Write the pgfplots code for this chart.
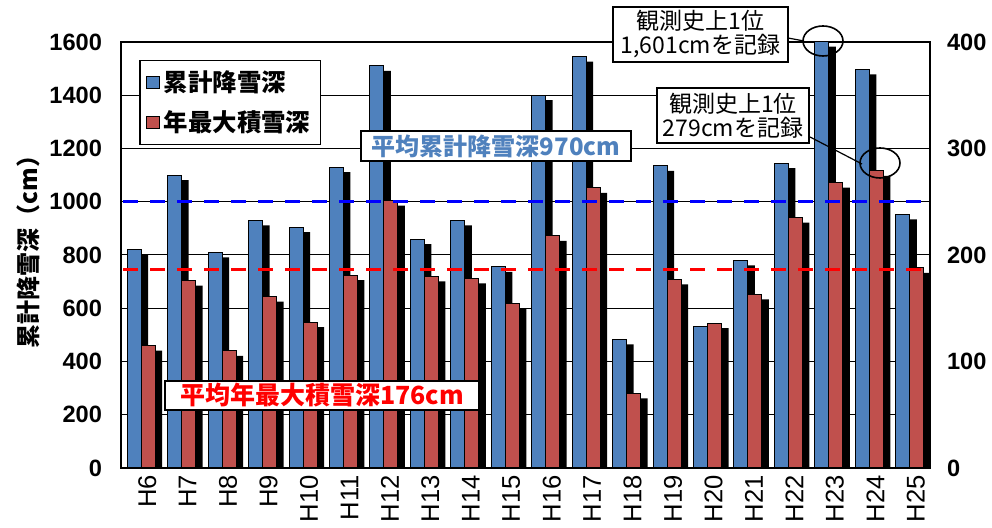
\documentclass[border=0pt]{standalone}
\usepackage{fontspec}
\usepackage{pgfplots}
\usepackage{pgfplotstable}
\pgfplotsset{compat=1.18}
\setmainfont{Liberation Sans}
\newfontfamily\cjk{Noto Sans CJK JP}
\definecolor{bblue}{HTML}{4F81BD}
\definecolor{bred}{HTML}{C0504D}
\pgfplotstableread{
x blue red
0 820 115
1 1100 176
2 810 110
3 930 161
4 905 137
5 1130 181
6 1510 251
7 860 180
8 930 178
9 755 154
10 1400 218
11 1545 263
12 483 70
13 1135 177
14 530 136
15 780 163
16 1145 235
17 1601 268
18 1497 279
19 953 188
}\data
\tikzset{shadowed/.style={preaction={fill=black, draw=none, transform canvas={xshift=3.5pt, yshift=-2.5pt}}}}
\pgfplotsset{
  common/.style={
    at={(60.5pt,30pt)}, anchor=south west,
    scale only axis, width=404.5pt, height=213pt,
    xmin=-0.5, xmax=19.5, ymin=0,
    major tick length=0pt,
    /pgf/number format/assume math mode=true,
    /pgf/number format/1000 sep={},
  }
}
\begin{document}
\begin{tikzpicture}
\begin{axis}[common, ymax=1600, ytick={0,200,...,1600},
  ymajorgrids, grid style={black, line width=0.5pt},
  axis line style={black, line width=0.75pt},
  xtick={0,...,19},
  xticklabels={H6,H7,H8,H9,H10,H11,H12,H13,H14,H15,H16,H17,H18,H19,H20,H21,H22,H23,H24,H25},
  xticklabel style={rotate=90, anchor=east, font=\fontsize{12.8}{14}\selectfont, yshift=-3pt},
  yticklabel style={font=\bfseries\fontsize{11.8}{14}\selectfont, xshift=-6pt},
]
\addplot[ybar, bar width=7pt, bar shift=-3.5pt, fill=bblue, draw=black, line width=0.5pt, shadowed] table[x=x,y=blue]{\data};
\end{axis}
\begin{axis}[common, ymax=400, ytick={0,100,...,400}, xtick=\empty,
  yticklabel pos=right, axis line style={draw=none},
  yticklabel style={font=\bfseries\fontsize{11.8}{14}\selectfont, xshift=5pt},
  legend cell align=left,
  legend style={at={(0.0222,0.958)}, anchor=north west, draw=black, line width=0.8pt,
    inner xsep=3pt, inner ysep=3pt, row sep=4pt,
    font=\cjk\bfseries\fontsize{12.2}{14}\selectfont},
]
\addlegendimage{legend image code/.code={\draw[fill=bblue, draw=black, line width=0.6pt] (0pt,-3pt) rectangle (6.5pt,3pt);}}
\addlegendentry{累計降雪深}
\addlegendimage{legend image code/.code={\draw[fill=bred, draw=black, line width=0.6pt] (0pt,-3pt) rectangle (6.5pt,3pt);}}
\addlegendentry{年最大積雪深\hspace{24pt}}
\addplot[forget plot, ybar, bar width=7pt, bar shift=3.5pt, fill=bred, draw=black, line width=0.5pt, shadowed] table[x=x,y=red]{\data};
\addplot[forget plot, red, line width=1.5pt, dash pattern=on 7.5pt off 6pt] coordinates {(-0.45,186) (19.45,186)};
\addplot[forget plot, blue, line width=1.5pt, dash pattern=on 7.5pt off 6pt] coordinates {(-0.45,250) (19.45,250)};
\end{axis}
\node[rotate=90, font=\cjk\bfseries\fontsize{12}{14}\selectfont] at (14pt,141pt) {累計降雪深（cm）};
\node[draw=black, line width=1pt, fill=white, inner sep=0pt, minimum width=135pt, minimum height=15pt, font=\cjk\bfseries\fontsize{12}{14}\selectfont, text=bblue] at (248pt,191pt) {平均累計降雪深970cm};
\node[draw=black, line width=1pt, fill=white, inner sep=0pt, minimum width=157pt, minimum height=14.5pt, font=\cjk\bfseries\fontsize{12.5}{14}\selectfont, text=red] at (161pt,66.25pt) {平均年最大積雪深176cm};
\node[draw=black, line width=0.8pt, fill=white, align=center, inner sep=0pt, minimum width=87.5pt, minimum height=27.5pt, font=\cjk\fontsize{11.5}{12}\selectfont] at (350.25pt,246.75pt) {観測史上1位\\1,601cmを記録};
\node[draw=black, line width=0.8pt, fill=white, align=center, inner sep=0pt, minimum width=76pt, minimum height=27.5pt, font=\cjk\fontsize{11.5}{12}\selectfont] at (366.5pt,206.25pt) {観測史上1位\\279cmを記録};
\draw[line width=0.8pt] (411.5pt,243.5pt) ellipse [x radius=10pt, y radius=7.5pt];
\draw[line width=0.8pt] (440pt,182.5pt) ellipse [x radius=10pt, y radius=7.5pt];
\draw[line width=0.6pt] (394pt,245pt) -- (402pt,243.5pt);
\draw[line width=0.6pt] (405pt,195.5pt) -- (431pt,182pt);
\pgfresetboundingbox
\useasboundingbox (0,0) rectangle (496pt,264pt);
\end{tikzpicture}
\end{document}
